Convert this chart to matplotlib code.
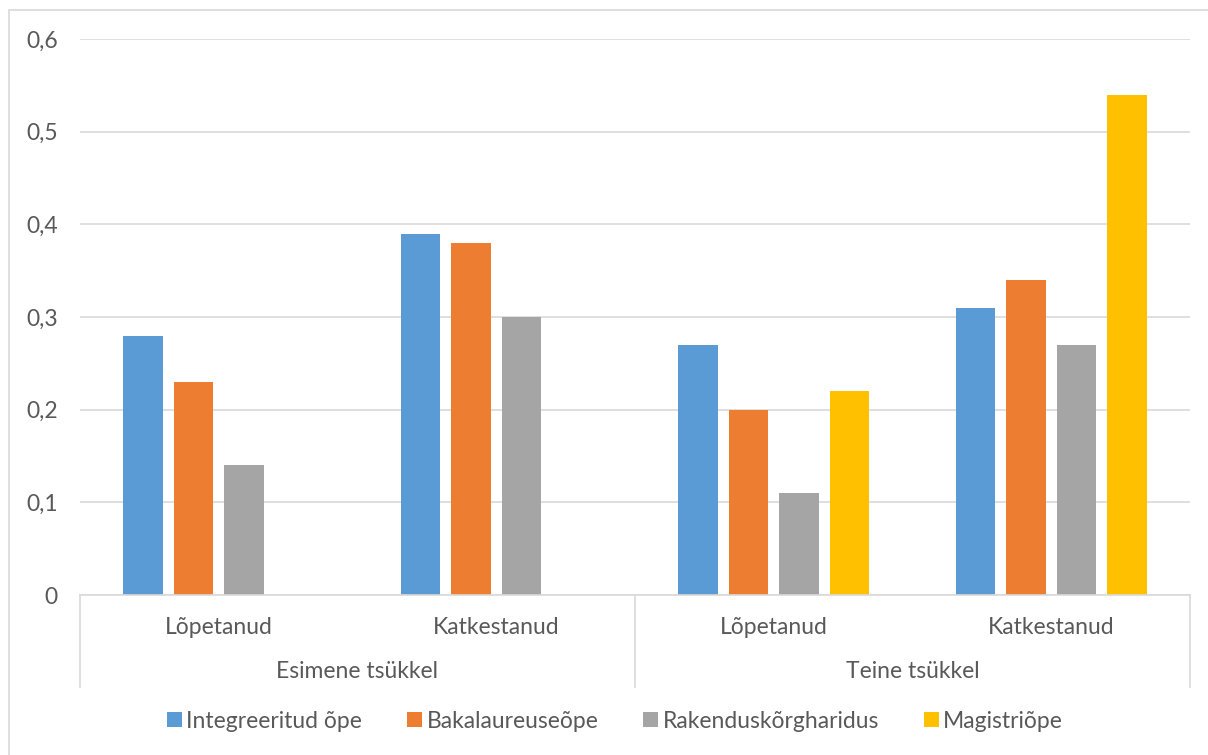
import matplotlib.pyplot as plt
from matplotlib.patches import Rectangle
from matplotlib.lines import Line2D
import numpy as np

plt.rcParams['font.family'] = ['Lato', 'DejaVu Sans']

# data
groups = ['Esimene tsükkel', 'Teine tsükkel']
categories = ['Lõpetanud', 'Katkestanud', 'Lõpetanud', 'Katkestanud']
series_names = ['Integreeritud õpe', 'Bakalaureuseõpe', 'Rakenduskõrgharidus', 'Magistriõpe']
integreeritud = [0.28, 0.39, 0.27, 0.31]
bakalaureus = [0.23, 0.38, 0.20, 0.34]
rakendus = [0.14, 0.30, 0.11, 0.27]
magistri = [None, None, 0.22, 0.54]
y_ticks = [0, 0.1, 0.2, 0.3, 0.4, 0.5, 0.6]
y_tick_labels = ['0', '0,1', '0,2', '0,3', '0,4', '0,5', '0,6']

colors = ['#5B9BD5', '#ED7D31', '#A5A5A5', '#FFC000']
text_color = '#595959'
line_color = '#D9D9D9'
fs = 16.5

fig = plt.figure(figsize=(12.08, 7.55), dpi=100)
ax = fig.add_axes([80 / 1208, 1 - 595 / 755, 1110 / 1208, 556 / 755])

# outer chart border
fig.patches.append(Rectangle((9 / 1208, -0.01), 1.1, 1 - 10 / 755 + 0.01,
                             transform=fig.transFigure, fill=False,
                             edgecolor=line_color, linewidth=1.2))

x = np.arange(len(categories))
bar_w = 0.144
step = 0.182
all_series = [integreeritud, bakalaureus, rakendus, magistri]
for i, (vals, name) in enumerate(zip(all_series, series_names)):
    xs = [xx + (i - 1.5) * step for xx, v in zip(x, vals) if v is not None]
    hs = [v for v in vals if v is not None]
    ax.bar(xs, hs, width=bar_w, color=colors[i], label=name, zorder=3)

ax.set_xlim(-0.5, len(categories) - 0.5)
ax.set_ylim(0, 0.6)
ax.set_yticks(y_ticks)
ax.set_yticklabels(y_tick_labels)
ax.tick_params(axis='y', length=0, pad=16, labelsize=fs, labelcolor=text_color)
ax.set_xticks([])
ax.yaxis.grid(True, color=line_color, linewidth=1.2, zorder=0)
for s in ['top', 'right', 'left']:
    ax.spines[s].set_visible(False)
ax.spines['bottom'].set_color(line_color)
ax.spines['bottom'].set_linewidth(1.2)
ax.spines['bottom'].set_zorder(4)

# multi-level category axis
trans = ax.get_xaxis_transform()
axis_h = (687 - 595) / 556
for xv in [-0.5, 1.5, 3.5]:
    ax.add_line(Line2D([xv, xv], [0, -axis_h], transform=trans, color=line_color,
                       linewidth=1.2, clip_on=False))
for xx, cat in zip(x, categories):
    ax.text(xx, -(627 - 595) / 556, cat, transform=trans, ha='center', va='center',
            fontsize=fs, color=text_color)
for gi, g in enumerate(groups):
    ax.text(0.5 + 2 * gi, -(672 - 595) / 556, g, transform=trans, ha='center', va='center',
            fontsize=fs, color=text_color)

leg = fig.legend(loc='center', bbox_to_anchor=(615 / 1208, 1 - 721 / 755), ncol=4,
                 frameon=False, fontsize=fs, handlelength=0.65, handleheight=0.65,
                 handletextpad=0.2, columnspacing=1.95)
for t in leg.get_texts():
    t.set_color(text_color)

fig.savefig('out.png', dpi=100)
